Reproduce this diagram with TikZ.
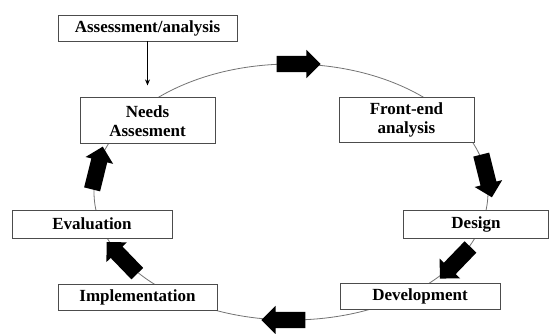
\documentclass[tikz,border=0pt]{standalone}
\usepackage{fontspec}
\setmainfont{Liberation Serif}
\usetikzlibrary{positioning,shapes.arrows,arrows.meta,calc}

\begin{document}
\begin{tikzpicture}[x=1pt,y=1pt,
  stage/.style={draw=black!70,fill=white,line width=0.8pt,inner sep=0pt,align=center,
    font=\fontsize{17}{19}\selectfont\bfseries},
  flow/.style={single arrow,fill=black,draw=none,inner sep=8pt,minimum height=44pt,
    single arrow head extend=6pt}]
  \useasboundingbox (0,0) rectangle (551,333);
  \coordinate (c) at (291,141);
  \draw[black!55,line width=0.8pt] (c) ellipse [x radius=197,y radius=128];

  \node[stage,minimum width=179pt,minimum height=26pt] (aa) at (147.5,305) {Assessment/analysis};
  \node[stage,minimum width=135pt,minimum height=46pt] (na) [below=56pt of aa] {Needs\\Assesment};
  \node[stage,minimum width=135pt,minimum height=45pt] (fe) at (406.5,213.5) {Front-end\\analysis};
  \node[stage,minimum width=145pt,minimum height=28pt] (de) at (476,109) {Design};
  \node[stage,minimum width=160pt,minimum height=26pt] (dv) at (420,37) {Development};
  \node[stage,minimum width=159pt,minimum height=26pt] (im) at (137.5,36) {Implementation};
  \node[stage,minimum width=160pt,minimum height=28pt] (ev) at (92,109) {Evaluation};

  \draw[-{Stealth[length=6pt,width=5pt]},line width=1pt,shorten >=12pt] (aa) -- (na);

  \node[flow,rotate=0] (f1) at ($(c)+(89:197 and 128)$) {};
  \node[flow,rotate=-76] (f2) at ($(c)+(9:197 and 128)$) {};
  \node[flow,rotate=-134] (f3) at ($(c)+(-32:197 and 128)$) {};
  \node[flow,rotate=180] (f4) at ($(c)+(-91:197 and 128)$) {};
  \node[flow,rotate=134] (f5) at ($(c)+(-147.5:197 and 128)$) {};
  \node[flow,rotate=76] (f6) at ($(c)+(171:197 and 128)$) {};
\end{tikzpicture}
\end{document}
